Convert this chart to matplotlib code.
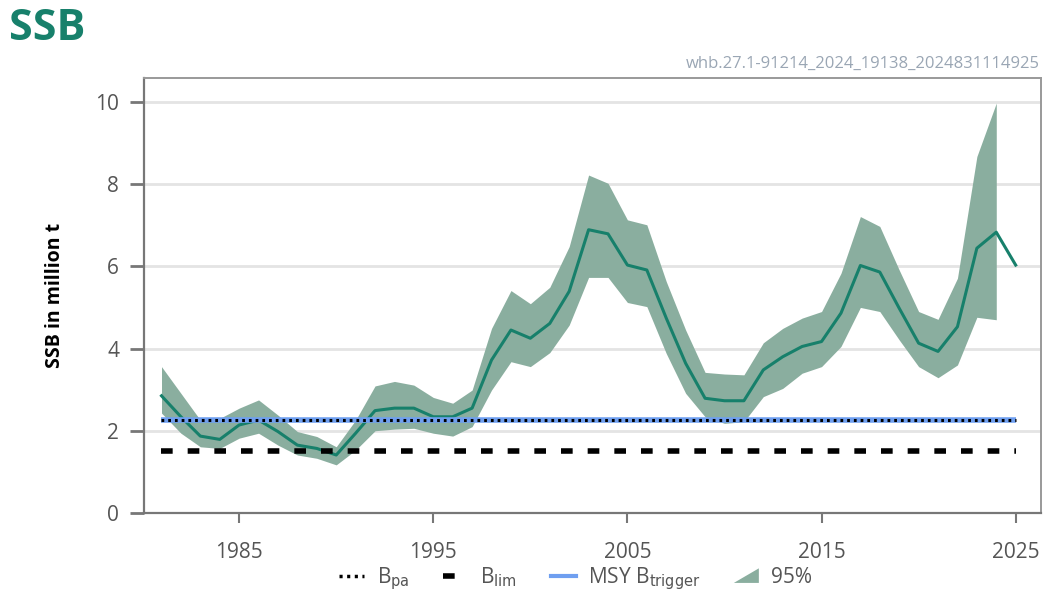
import matplotlib
matplotlib.use("Agg")
import matplotlib.pyplot as plt
from matplotlib.lines import Line2D
from matplotlib.patches import Polygon
from matplotlib.legend_handler import HandlerBase

years = list(range(1981, 2026))
ssb = [2.85, 2.34, 1.87, 1.79, 2.14, 2.26, 1.98, 1.65, 1.57, 1.41,
       1.94, 2.49, 2.55, 2.55, 2.34, 2.34, 2.55, 3.72, 4.45, 4.25,
       4.61, 5.39, 6.89, 6.79, 6.03, 5.91, 4.74, 3.64, 2.79, 2.73,
       2.73, 3.48, 3.80, 4.05, 4.17, 4.86, 6.02, 5.86, 4.98, 4.13,
       3.93, 4.53, 6.44, 6.83, 6.03]
band_years = list(range(1981, 2025))
ssb_high = [3.56, 2.91, 2.26, 2.30, 2.55, 2.75, 2.38, 1.98, 1.86, 1.61,
            2.26, 3.09, 3.20, 3.11, 2.81, 2.67, 2.99, 4.49, 5.41, 5.09,
            5.49, 6.48, 8.22, 8.02, 7.13, 7.01, 5.63, 4.45, 3.42, 3.38,
            3.36, 4.14, 4.49, 4.74, 4.90, 5.83, 7.21, 6.97, 5.91, 4.90,
            4.71, 5.71, 8.67, 9.97]
ssb_low = [2.43, 1.94, 1.61, 1.57, 1.82, 1.94, 1.65, 1.41, 1.33, 1.17,
           1.53, 2.00, 2.04, 2.06, 1.94, 1.87, 2.10, 2.99, 3.68, 3.56,
           3.90, 4.57, 5.73, 5.73, 5.12, 5.02, 3.88, 2.91, 2.34, 2.18,
           2.22, 2.83, 3.03, 3.40, 3.56, 4.05, 5.00, 4.90, 4.21, 3.56,
           3.29, 3.60, 4.76, 4.70]
bpa = 2.25
blim = 1.5
msy_btrigger = 2.25
xticks = [1985, 1995, 2005, 2015, 2025]
yticks = [0, 2, 4, 6, 8, 10]
code_label = "whb.27.1-91214_2024_19138_2024831114925"

FONT = "Open Sans"
TEAL = "#17806b"
FILL = "#8aae9f"
GRAY = "#555555"
BLUE = "#6f9ff0"
DOT = (0, (0.9, 1.3))
DASH = (0, (2.1, 2.7))

fig = plt.figure(figsize=(10.49, 5.96), dpi=100)
fig.patch.set_facecolor("white")
ax = fig.add_axes([0.1373, 0.1393, 0.8550, 0.7298])

ax.fill_between(band_years, ssb_low, ssb_high, color=FILL, linewidth=0, zorder=2)
ax.plot(years, ssb, color=TEAL, linewidth=2.2, zorder=3)
ref_x = [years[0], years[-1]]
ax.plot(ref_x, [msy_btrigger] * 2, color=BLUE, linewidth=4, zorder=4,
        solid_capstyle="butt")
ax.plot(ref_x, [bpa] * 2, color="black", linewidth=2.2, linestyle=DOT, zorder=5)
ax.plot(ref_x, [blim] * 2, color="black", linewidth=4, linestyle=DASH,
        zorder=5, dash_capstyle="butt")

ax.set_xlim(1980.1, 2026.3)
ax.set_ylim(0, 10.58)
ax.set_xticks(xticks)
ax.set_yticks(yticks)
ax.set_xticklabels([str(x) for x in xticks], fontfamily=FONT, fontsize=15, color=GRAY)
ax.set_yticklabels([str(y) for y in yticks], fontfamily=FONT, fontsize=15, color=GRAY)
ax.tick_params(axis="y", length=10, width=2, color="#777777", pad=8)
ax.tick_params(axis="x", length=7, width=1.5, color="#777777", pad=14)
ax.grid(axis="y", color="#e4e4e4", linewidth=2, zorder=0)
ax.set_axisbelow(True)
for side in ["left", "bottom"]:
    ax.spines[side].set_color("#777777")
    ax.spines[side].set_linewidth(1.6)
for side in ["top", "right"]:
    ax.spines[side].set_color("#999999")
    ax.spines[side].set_linewidth(1.4)

ax.set_ylabel("SSB in million t", fontfamily=FONT, fontsize=14, fontweight="bold",
              color="black", labelpad=22)

fig.text(0.009, 0.952, "SSB", fontfamily=FONT, fontsize=31, fontweight="bold",
         color=TEAL, ha="left", va="center")
fig.text(0.9914, 0.893, code_label, fontfamily=FONT, fontsize=12, color="#9aa6b4",
         ha="right", va="center")


class TriangleHandler(HandlerBase):
    def create_artists(self, legend, orig_handle, xdescent, ydescent, width, height,
                       fontsize, trans):
        pts = [[-xdescent, -ydescent],
               [-xdescent + width, -ydescent + height * 1.0],
               [-xdescent + width, -ydescent]]
        p = Polygon(pts, closed=True, facecolor=FILL, edgecolor="none", transform=trans)
        return [p]


h_bpa = Line2D([], [], color="black", linewidth=2.5, linestyle=DOT)
h_blim = Line2D([], [], color="black", linewidth=4, linestyle=DASH)
h_msy = Line2D([], [], color=BLUE, linewidth=3)
h_ci = Polygon([[0, 0], [1, 1], [1, 0]], facecolor=FILL)
leg = fig.legend([h_bpa, h_blim, h_msy, h_ci],
                 [r"B$_{\mathrm{pa}}$", r"B$_{\mathrm{lim}}$",
                  r"MSY B$_{\mathrm{trigger}}$", "95%"],
                 handler_map={Polygon: TriangleHandler()},
                 loc="center", bbox_to_anchor=(0.549, 0.03), ncol=4, frameon=False,
                 prop={"family": FONT, "size": 15}, handlelength=1.2,
                 columnspacing=1.6, handletextpad=0.6)
for t in leg.get_texts():
    t.set_color(GRAY)

fig.savefig("out.png", dpi=100, facecolor="white")
